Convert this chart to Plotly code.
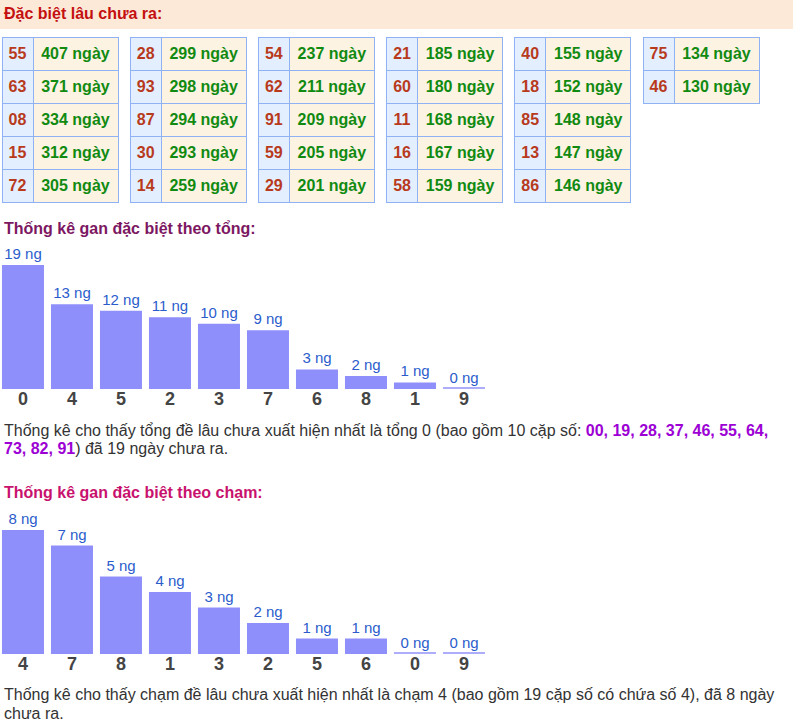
import plotly.graph_objects as go

# ------------------------------
# Data
# ------------------------------

# --- Dac biet lau chua ra (5 rows per table)
gan_numbers = ["55", "63", "08", "15", "72",
               "28", "93", "87", "30", "14",
               "54", "62", "91", "59", "29",
               "21", "60", "11", "16", "58",
               "40", "18", "85", "13", "86",
               "75", "46"]
gan_days = [407, 371, 334, 312, 305,
            299, 298, 294, 293, 259,
            237, 211, 209, 205, 201,
            185, 180, 168, 167, 159,
            155, 152, 148, 147, 146,
            134, 130]

# --- Gan theo tong
tong_labels = ["0", "4", "5", "2", "3", "7", "6", "8", "1", "9"]
tong_days = [19, 13, 12, 11, 10, 9, 3, 2, 1, 0]
tong_pairs = ["00", "19", "28", "37", "46", "55", "64", "73", "82", "91"]

# --- Gan theo cham
cham_labels = ["4", "7", "8", "1", "3", "2", "5", "6", "0", "9"]
cham_days = [8, 7, 5, 4, 3, 2, 1, 1, 0, 0]

# ------------------------------
# Figure Setup
# ------------------------------

W, H = 793, 727
FONT = "Arial, Liberation Sans, sans-serif"


def px_x(p):
    return p / W


def px_y(p):
    return 1 - p / H


fig = go.Figure()

# --- header band
fig.add_shape(type="rect", xref="paper", yref="paper",
              x0=0, x1=1, y0=px_y(29), y1=1,
              fillcolor="#fce9d7", line_width=0, layer="below")
fig.add_annotation(text="<b>Đặc biệt lâu chưa ra:</b>", x=px_x(2), y=px_y(14),
                   xref="paper", yref="paper", xanchor="left", yanchor="middle",
                   showarrow=False, font=dict(size=16, color="#c41010", family=FONT))

# --- tables
ROW_H = 31.4
TOP = 37
for i in range(0, len(gan_numbers), 5):
    nums = gan_numbers[i:i + 5]
    days = [f"{d}\u00a0ngày" for d in gan_days[i:i + 5]]
    k = i // 5
    x0 = 2 + 128.2 * k
    n_rows = len(nums)
    style = dict(fill_color=["#e3efff", "#fdf3e3"], line_color="#8fb2f4",
                 line_width=1, align="center", height=ROW_H,
                 font=dict(size=16, color=["#b83a1c", "#118a11"], family=FONT))
    fig.add_trace(go.Table(
        domain=dict(x=[px_x(x0), px_x(x0 + 116.5)],
                    y=[px_y(TOP + 33 * n_rows + 6), px_y(TOP)]),
        columnwidth=[31, 85],
        header=dict(values=[f"<b>{nums[0]}</b>", f"<b>{days[0]}</b>"], **style),
        cells=dict(values=[[f"<b>{n}</b>" for n in nums[1:]],
                           [f"<b>{d}</b>" for d in days[1:]]], **style),
    ))

# --- bar charts
BAR_COLOR = "#8f8ffc"
FLOOR_COLOR = "#adadfc"
LABEL_BLUE = "#2b5ccc"


def add_bars(labels, values, axis, bottom_px, title, title_color, title_y):
    s = (126 - 2) / max(values)
    base = -2 / s
    top_px = bottom_px - 150
    # thin floor strip so that 0-day bars still show as a sliver
    fig.add_trace(go.Bar(
        x=labels, y=[-base] * len(labels), base=base, xaxis="x" + axis, yaxis="y" + axis,
        marker=dict(color=FLOOR_COLOR, line_width=0),
        hoverinfo="skip", showlegend=False,
    ))
    fig.add_trace(go.Bar(
        x=labels, y=values, base=base, xaxis="x" + axis, yaxis="y" + axis,
        marker=dict(color=BAR_COLOR, line_width=0),
        texttemplate="%{y} ng", textposition="outside", cliponaxis=False,
        textfont=dict(size=15, color=LABEL_BLUE, family=FONT),
        hoverinfo="skip", showlegend=False,
    ))
    fig.update_layout(**{
        "xaxis" + axis: dict(domain=[0, px_x(490)], range=[-0.469, 9.531],
                             anchor="y" + axis, showgrid=False, zeroline=False,
                             showline=False, ticks="", ticklabelstandoff=-3,
                             tickfont=dict(size=18, color="#444444", family=FONT, weight="bold")),
        "yaxis" + axis: dict(domain=[px_y(bottom_px), px_y(top_px)],
                             range=[base, base + 150 / s], anchor="x" + axis,
                             visible=False),
    })
    fig.add_annotation(text=f"<b>{title}</b>", x=px_x(2), y=px_y(title_y),
                       xref="paper", yref="paper", xanchor="left", yanchor="middle",
                       showarrow=False, font=dict(size=16, color=title_color, family=FONT))


add_bars(tong_labels, tong_days, "", 389, "Thống kê gan đặc biệt theo tổng:", "#7c1762", 228)
add_bars(cham_labels, cham_days, "2", 654, "Thống kê gan đặc biệt theo chạm:", "#c8126e", 492)

# --- paragraphs
TEXT = "#333333"
PURPLE = "#9c00d4"


def add_line(text, y):
    fig.add_annotation(text=text, x=px_x(2), y=px_y(y), xref="paper", yref="paper",
                       xanchor="left", yanchor="middle", showarrow=False,
                       font=dict(size=16, color=TEXT, family=FONT))


pairs_a = ", ".join(tong_pairs[:7]) + ","
pairs_b = ", ".join(tong_pairs[7:])
add_line(f"Thống kê cho thấy tổng đề lâu chưa xuất hiện nhất là tổng {tong_labels[0]} "
         f"(bao gồm {len(tong_pairs)} cặp số: "
         f"<span style='color:{PURPLE}'><b>{pairs_a}</b></span>", 430)
add_line(f"<span style='color:{PURPLE}'><b>{pairs_b}</b></span>) đã {tong_days[0]} ngày chưa ra.", 448)

add_line(f"Thống kê cho thấy chạm đề lâu chưa xuất hiện nhất là chạm {cham_labels[0]} "
         f"(bao gồm 19 cặp số có chứa số {cham_labels[0]}), đã {cham_days[0]} ngày", 694)
add_line("chưa ra.", 713)

fig.update_layout(
    width=W, height=H,
    margin=dict(t=0, l=0, b=0, r=0),
    paper_bgcolor="white", plot_bgcolor="white",
    barmode="overlay",
    bargap=7 / 49,
    showlegend=False,
    font=dict(family=FONT),
)

# page body has a default 8px margin; drop it so the figure sits at the corner
fig.write_html("out.html", config={"displayModeBar": False},
               post_script="document.body.style.margin='0';")
